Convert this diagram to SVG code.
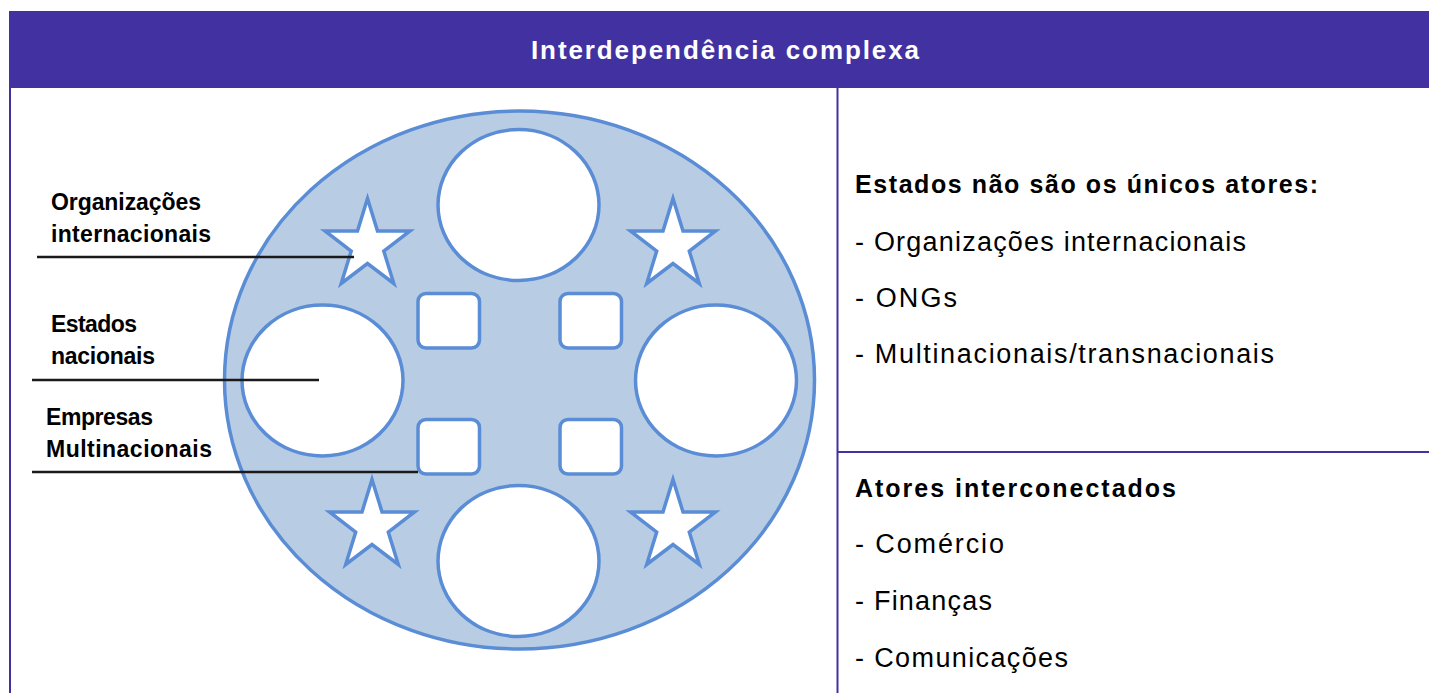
<svg xmlns="http://www.w3.org/2000/svg" xmlns:xlink="http://www.w3.org/1999/xlink" width="1429" height="693" viewBox="0 0 1429 693">
<style>
.frame{stroke:#4231A0;stroke-width:2;fill:none}
.shape{fill:#FFFFFF;stroke:#5A8DD5;stroke-width:3.5}
.disk{fill:#B8CDE4;stroke:#5A8DD5;stroke-width:3.5}
.lbl{font-family:"Liberation Sans",Arial,sans-serif;font-weight:bold;font-size:23px;fill:#000}
.head{font-family:"Liberation Sans",Arial,sans-serif;font-weight:bold;font-size:25px;fill:#000}
.item{font-family:"Liberation Sans",Arial,sans-serif;font-size:27px;fill:#000}
.title{font-family:"Liberation Sans",Arial,sans-serif;font-weight:bold;font-size:26px;fill:#FFFFFF}
.lead{stroke:#1A1A1A;stroke-width:2.5;fill:none}
</style>
<defs>
<path id="star" d="M0,-47 L10,-14.6 L42.5,-14.5 L16.3,5.6 L26.3,38 L0,18 L-26.3,38 L-16.3,5.6 L-42.5,-14.5 L-10,-14.6 Z"/>
</defs>
<rect width="1429" height="693" fill="#FFFFFF"/>
<g id="header">
<rect x="9" y="11" width="1420" height="77" fill="#4231A0"/>
<text class="title" x="725" y="59" text-anchor="middle" textLength="388" lengthAdjust="spacing">Interdependência complexa</text>
</g>
<g id="frame">
<line class="frame" x1="10" y1="88" x2="10" y2="693"/>
<line class="frame" x1="837.5" y1="88" x2="837.5" y2="693"/>
<line class="frame" x1="837.5" y1="452" x2="1429" y2="452"/>
</g>
<g id="diagram">
<ellipse class="disk" cx="519.5" cy="380" rx="295" ry="269"/>
<g id="circle-top"><ellipse class="shape" cx="518.5" cy="205" rx="80.5" ry="75.5"/></g>
<g id="circle-bottom"><ellipse class="shape" cx="518.5" cy="561" rx="80.5" ry="75.5"/></g>
<g id="circle-left"><ellipse class="shape" cx="322.5" cy="380.5" rx="80.5" ry="75.5"/></g>
<g id="circle-right"><ellipse class="shape" cx="716" cy="380.5" rx="80.5" ry="75.5"/></g>
<g id="square-tl"><rect class="shape" x="418" y="293.5" width="61.5" height="54.5" rx="8"/></g>
<g id="square-tr"><rect class="shape" x="560" y="293.5" width="61.5" height="54.5" rx="8"/></g>
<g id="square-bl"><rect class="shape" x="418" y="419.5" width="61.5" height="54.5" rx="8"/></g>
<g id="square-br"><rect class="shape" x="560" y="419.5" width="61.5" height="54.5" rx="8"/></g>
<g id="star-tl"><use xlink:href="#star" href="#star" class="shape" x="367.5" y="245.5"/></g>
<g id="star-tr"><use xlink:href="#star" href="#star" class="shape" x="673" y="245.5"/></g>
<g id="star-bl"><use xlink:href="#star" href="#star" class="shape" x="372" y="526.5"/></g>
<g id="star-br"><use xlink:href="#star" href="#star" class="shape" x="673" y="526.5"/></g>
</g>
<g id="connectors">
<line class="lead" x1="37" y1="257" x2="354" y2="257"/>
<line class="lead" x1="32" y1="380" x2="319" y2="380"/>
<line class="lead" x1="32" y1="472" x2="418" y2="472"/>
</g>
<g id="label-org">
<text class="lbl" x="51" y="210" textLength="150" lengthAdjust="spacing">Organizações</text>
<text class="lbl" x="51" y="242" textLength="160" lengthAdjust="spacing">internacionais</text>
</g>
<g id="label-estados">
<text class="lbl" x="51" y="332" textLength="86" lengthAdjust="spacing">Estados</text>
<text class="lbl" x="51" y="364" textLength="104" lengthAdjust="spacing">nacionais</text>
</g>
<g id="label-empresas">
<text class="lbl" x="46" y="425" textLength="107" lengthAdjust="spacing">Empresas</text>
<text class="lbl" x="46" y="457" textLength="166" lengthAdjust="spacing">Multinacionais</text>
</g>
<g id="panel-atores">
<text class="head" x="855" y="193" textLength="463" lengthAdjust="spacing">Estados não são os únicos atores:</text>
<text class="item" x="855" y="251" textLength="391" lengthAdjust="spacing">- Organizações internacionais</text>
<text class="item" x="855" y="307" textLength="102" lengthAdjust="spacing">- ONGs</text>
<text class="item" x="855" y="363" textLength="419" lengthAdjust="spacing">- Multinacionais/transnacionais</text>
</g>
<g id="panel-interconectados">
<text class="head" x="855" y="497" textLength="321" lengthAdjust="spacing">Atores interconectados</text>
<text class="item" x="855" y="553" textLength="149" lengthAdjust="spacing">- Comércio</text>
<text class="item" x="855" y="610" textLength="137" lengthAdjust="spacing">- Finanças</text>
<text class="item" x="855" y="667" textLength="213" lengthAdjust="spacing">- Comunicações</text>
</g>
</svg>
